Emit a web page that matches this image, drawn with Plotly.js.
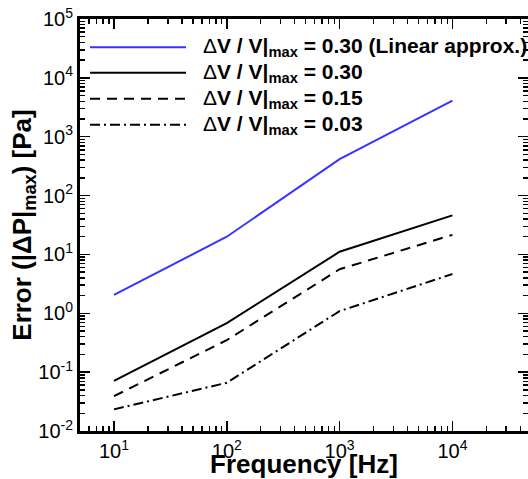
<!DOCTYPE html>
<html>
<head>
<meta charset="utf-8">
<script src="https://cdn.plot.ly/plotly-3.0.1.min.js"></script>
<style>html,body{margin:0;padding:0;background:#fff;}#chart{width:528px;height:479px;}</style>
</head>
<body>
<div id="chart"></div>
<script>
// ---- data ----
const frequency = [10, 100, 1000, 10000];
const errLinear030 = [2.05, 20, 415, 4100];
const err030 = [0.071, 0.68, 11.1, 46];
const err015 = [0.039, 0.35, 5.6, 21.5];
const err003 = [0.0233, 0.066, 1.09, 4.65];
const seriesNames = [
  '<span style="font-weight:normal">Δ</span>V / V|<sub>max</sub> = 0.30 (Linear approx.)',
  '<span style="font-weight:normal">Δ</span>V / V|<sub>max</sub> = 0.30',
  '<span style="font-weight:normal">Δ</span>V / V|<sub>max</sub> = 0.15',
  '<span style="font-weight:normal">Δ</span>V / V|<sub>max</sub> = 0.03'
];
const seriesValues = [errLinear030, err030, err015, err003];
const seriesColors = ['#3535ff', '#000000', '#000000', '#000000'];
const seriesDash = ['solid', 'solid', '10px,7px', '10px,4px,2px,4px'];

// tick labels
const xTickExp = [1, 2, 3, 4];
const yTickExp = [-2, -1, 0, 1, 2, 3, 4, 5];
const xTickVals = xTickExp.map(e => Math.pow(10, e));
const xTickText = xTickExp.map(e => '10<sup>' + e + '</sup>');
const yTickVals = yTickExp.map(e => Math.pow(10, e));
const yTickText = yTickExp.map(e => '10<sup>' + e + '</sup>');
function minorVals(e0, e1) {
  const out = [];
  for (let e = e0; e <= e1; e++) for (let m = 2; m <= 9; m++) out.push(m * Math.pow(10, e));
  return out;
}

const FONT = 'Liberation Sans, Arial, sans-serif';
const xRange = [Math.log10(5), 4.67];
const yRange = [-2, 5];

const traces = seriesValues.map((v, i) => ({
  x: frequency, y: v, type: 'scatter', mode: 'lines', name: seriesNames[i],
  line: {color: seriesColors[i], width: 2, dash: seriesDash[i]},
  showlegend: false
}));

// manual legend (long line samples like the reference)
const legRowsPx = [47.3, 72.7, 98.7, 124.7];
const plotTop = 19, plotBottom = 431, plotLeft = 80, plotRight = 528;
const px2xp = px => (px - plotLeft) / (plotRight - plotLeft);
const px2yp = py => (plotBottom - py) / (plotBottom - plotTop);
const shapes = [], annotations = [];
seriesNames.forEach((nm, i) => {
  const yp = px2yp(legRowsPx[i]);
  shapes.push({type: 'line', xref: 'paper', yref: 'paper', x0: px2xp(90), x1: px2xp(186), y0: yp, y1: yp,
    line: {color: seriesColors[i], width: 2, dash: seriesDash[i]}});
  annotations.push({xref: 'paper', yref: 'paper', x: px2xp(201), y: yp, xanchor: 'left', yanchor: 'middle',
    text: nm, showarrow: false, font: {family: FONT, size: 21, weight: 'bold', color: '#000'}});
});

const axisCommon = {
  type: 'log', showgrid: false, zeroline: false, showline: true, linewidth: 3, linecolor: '#000',
  mirror: 'ticks', ticks: 'inside', ticklen: 10, tickwidth: 1.5, tickcolor: '#000',
  tickmode: 'array', tickfont: {family: FONT, size: 20, color: '#000'}
};

const layout = {
  width: 528, height: 479,
  margin: {l: plotLeft, r: 0, t: plotTop, b: 479 - plotBottom},
  paper_bgcolor: '#fff', plot_bgcolor: '#fff',
  xaxis: Object.assign({}, axisCommon, {
    range: xRange, tickvals: xTickVals, ticktext: xTickText,
    minor: {ticks: 'inside', ticklen: 5, tickcolor: '#000', tickmode: 'array', tickvals: minorVals(0, 4)},
    title: {text: 'Frequency [Hz]', font: {family: FONT, size: 26, weight: 'bold', color: '#000'}, standoff: 0}
  }),
  yaxis: Object.assign({}, axisCommon, {
    range: yRange, tickvals: yTickVals, ticktext: yTickText,
    minor: {ticks: 'inside', ticklen: 5, tickcolor: '#000', tickmode: 'array', tickvals: minorVals(-2, 4)},
    title: {text: 'Error (|ΔP|<sub>max</sub>) [Pa]', font: {family: FONT, size: 26, weight: 'bold', color: '#000'}, standoff: 0}
  }),
  shapes: shapes, annotations: annotations, showlegend: false
};

Plotly.newPlot('chart', traces, layout, {displayModeBar: false, staticPlot: true});
</script>
</body>
</html>
